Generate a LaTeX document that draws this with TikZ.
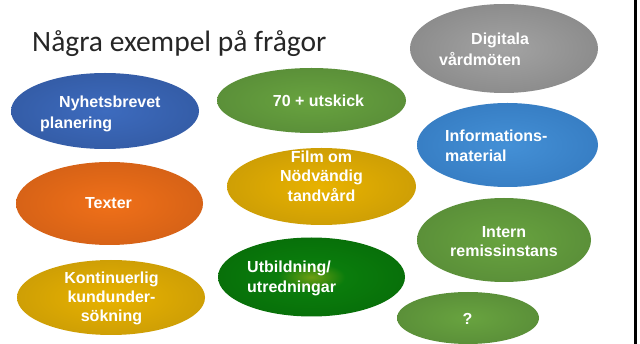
\documentclass[tikz,border=0pt]{standalone}
\usepackage{fontspec}
\setmainfont{Liberation Sans}
\newfontfamily\titlefont{Carlito}
\usetikzlibrary{shapes.geometric}
\definecolor{blueIn}{HTML}{3D6BBE}\definecolor{blueOut}{HTML}{2C4F91}
\definecolor{greenIn}{HTML}{68A33F}\definecolor{greenOut}{HTML}{4E7D33}
\definecolor{grayIn}{HTML}{A3A3A3}\definecolor{grayOut}{HTML}{767676}
\definecolor{lblueIn}{HTML}{4490D6}\definecolor{lblueOut}{HTML}{2B6DB3}
\definecolor{orangeIn}{HTML}{F07018}\definecolor{orangeOut}{HTML}{BE5516}
\definecolor{yellowIn}{HTML}{E8B200}\definecolor{yellowOut}{HTML}{B58C0A}
\definecolor{dgIn}{HTML}{6E9E12}\definecolor{dgMid}{HTML}{0A7C0C}\definecolor{dgOut}{HTML}{004800}
\definecolor{titlegray}{HTML}{262626}
\colorlet{ellin}{white}\colorlet{ellout}{black}
\pgfdeclareradialshading[ellin,ellout]{ellrad}{\pgfpoint{0bp}{0bp}}{color(0bp)=(ellin); color(50bp)=(ellout)}
\pgfdeclareradialshading{dgrad}{\pgfpoint{0bp}{0bp}}{color(0bp)=(dgIn); color(9bp)=(dgMid); color(30bp)=(dgMid!70!dgOut); color(50bp)=(dgOut)}
\begin{document}
\begin{tikzpicture}[x=1pt,y=-1pt,
  ell/.style n args={4}{ellipse, inner sep=0pt, minimum width=#3pt, minimum height=#4pt,
    /utils/exec={\colorlet{ellin}{#1}\colorlet{ellout}{#2}}, shading=ellrad},
  txt/.style={text=white, inner sep=0pt, font=\bfseries\fontsize{16}{#1}\selectfont},
  txt/.default=20]
\useasboundingbox (0,0) rectangle (640,344);
\fill[white] (0,0) rectangle (640,344);
\node[anchor=base west, inner sep=0pt, text=titlegray, font=\titlefont\fontsize{29.5}{32}\selectfont] (title) at (32,52) {Några exempel på frågor};
% ellipses
\node[ell={blueIn}{blueOut}{188}{76}] (e1) at (105,111) {};
\node[ell={greenIn}{greenOut}{189}{65}] (e2) at (311.5,100.5) {};
\node[ell={grayIn}{grayOut}{188}{89}] (e3) at (504,48.5) {};
\node[ell={lblueIn}{lblueOut}{181}{84}] (e4) at (507.5,145) {};
\node[ell={orangeIn}{orangeOut}{187}{83}] (e5) at (109.5,203.5) {};
\node[ell={yellowIn}{yellowOut}{189}{77}] (e6) at (321.5,186.5) {};
\node[ell={yellowIn}{yellowOut}{188}{75}] (e7) at (111,297.5) {};
\node[ellipse, inner sep=0pt, minimum width=187pt, minimum height=79pt, shading=dgrad] (e8) at (311.5,277) {};
\node[ell={greenIn}{greenOut}{174}{84}] (e9) at (504,240) {};
\node[ell={greenIn}{greenOut}{142}{52}] (e10) at (468,318) {};
% texts
\node[txt=21, align=left, anchor=north west] (t1) at (40,96) {\hspace*{19pt}Nyhetsbrevet\\planering};
\node[txt, anchor=base] (t2) at (318.5,107) {70 + utskick};
\node[txt=21, align=left, anchor=north west] (t3) at (439,33) {\hspace*{32pt}Digitala\\vårdmöten};
\node[txt=20, align=left, anchor=north west] (t4) at (445,130) {Informations-\\material};
\node[txt, anchor=base] (t5) at (108.5,209) {Texter};
\node[txt=19.5, align=center, anchor=north] (t6) at (321.5,150.5) {Film om\\Nödvändig\\tandvård};
\node[txt=19, align=center, anchor=north] (t7) at (111.5,272) {Kontinuerlig\\kundunder-\\sökning};
\node[txt=20, align=left, anchor=north west] (t8) at (247,261) {Utbildning/\\utredningar};
\node[txt=19, align=center, anchor=north] (t9) at (504,226) {Intern\\remissinstans};
\node[txt, anchor=base] (t10) at (467.5,325) {?};
% right edge rule
\draw[line width=2.5pt, black] (635.5,0) -- (635.5,344);
\end{tikzpicture}
\end{document}
